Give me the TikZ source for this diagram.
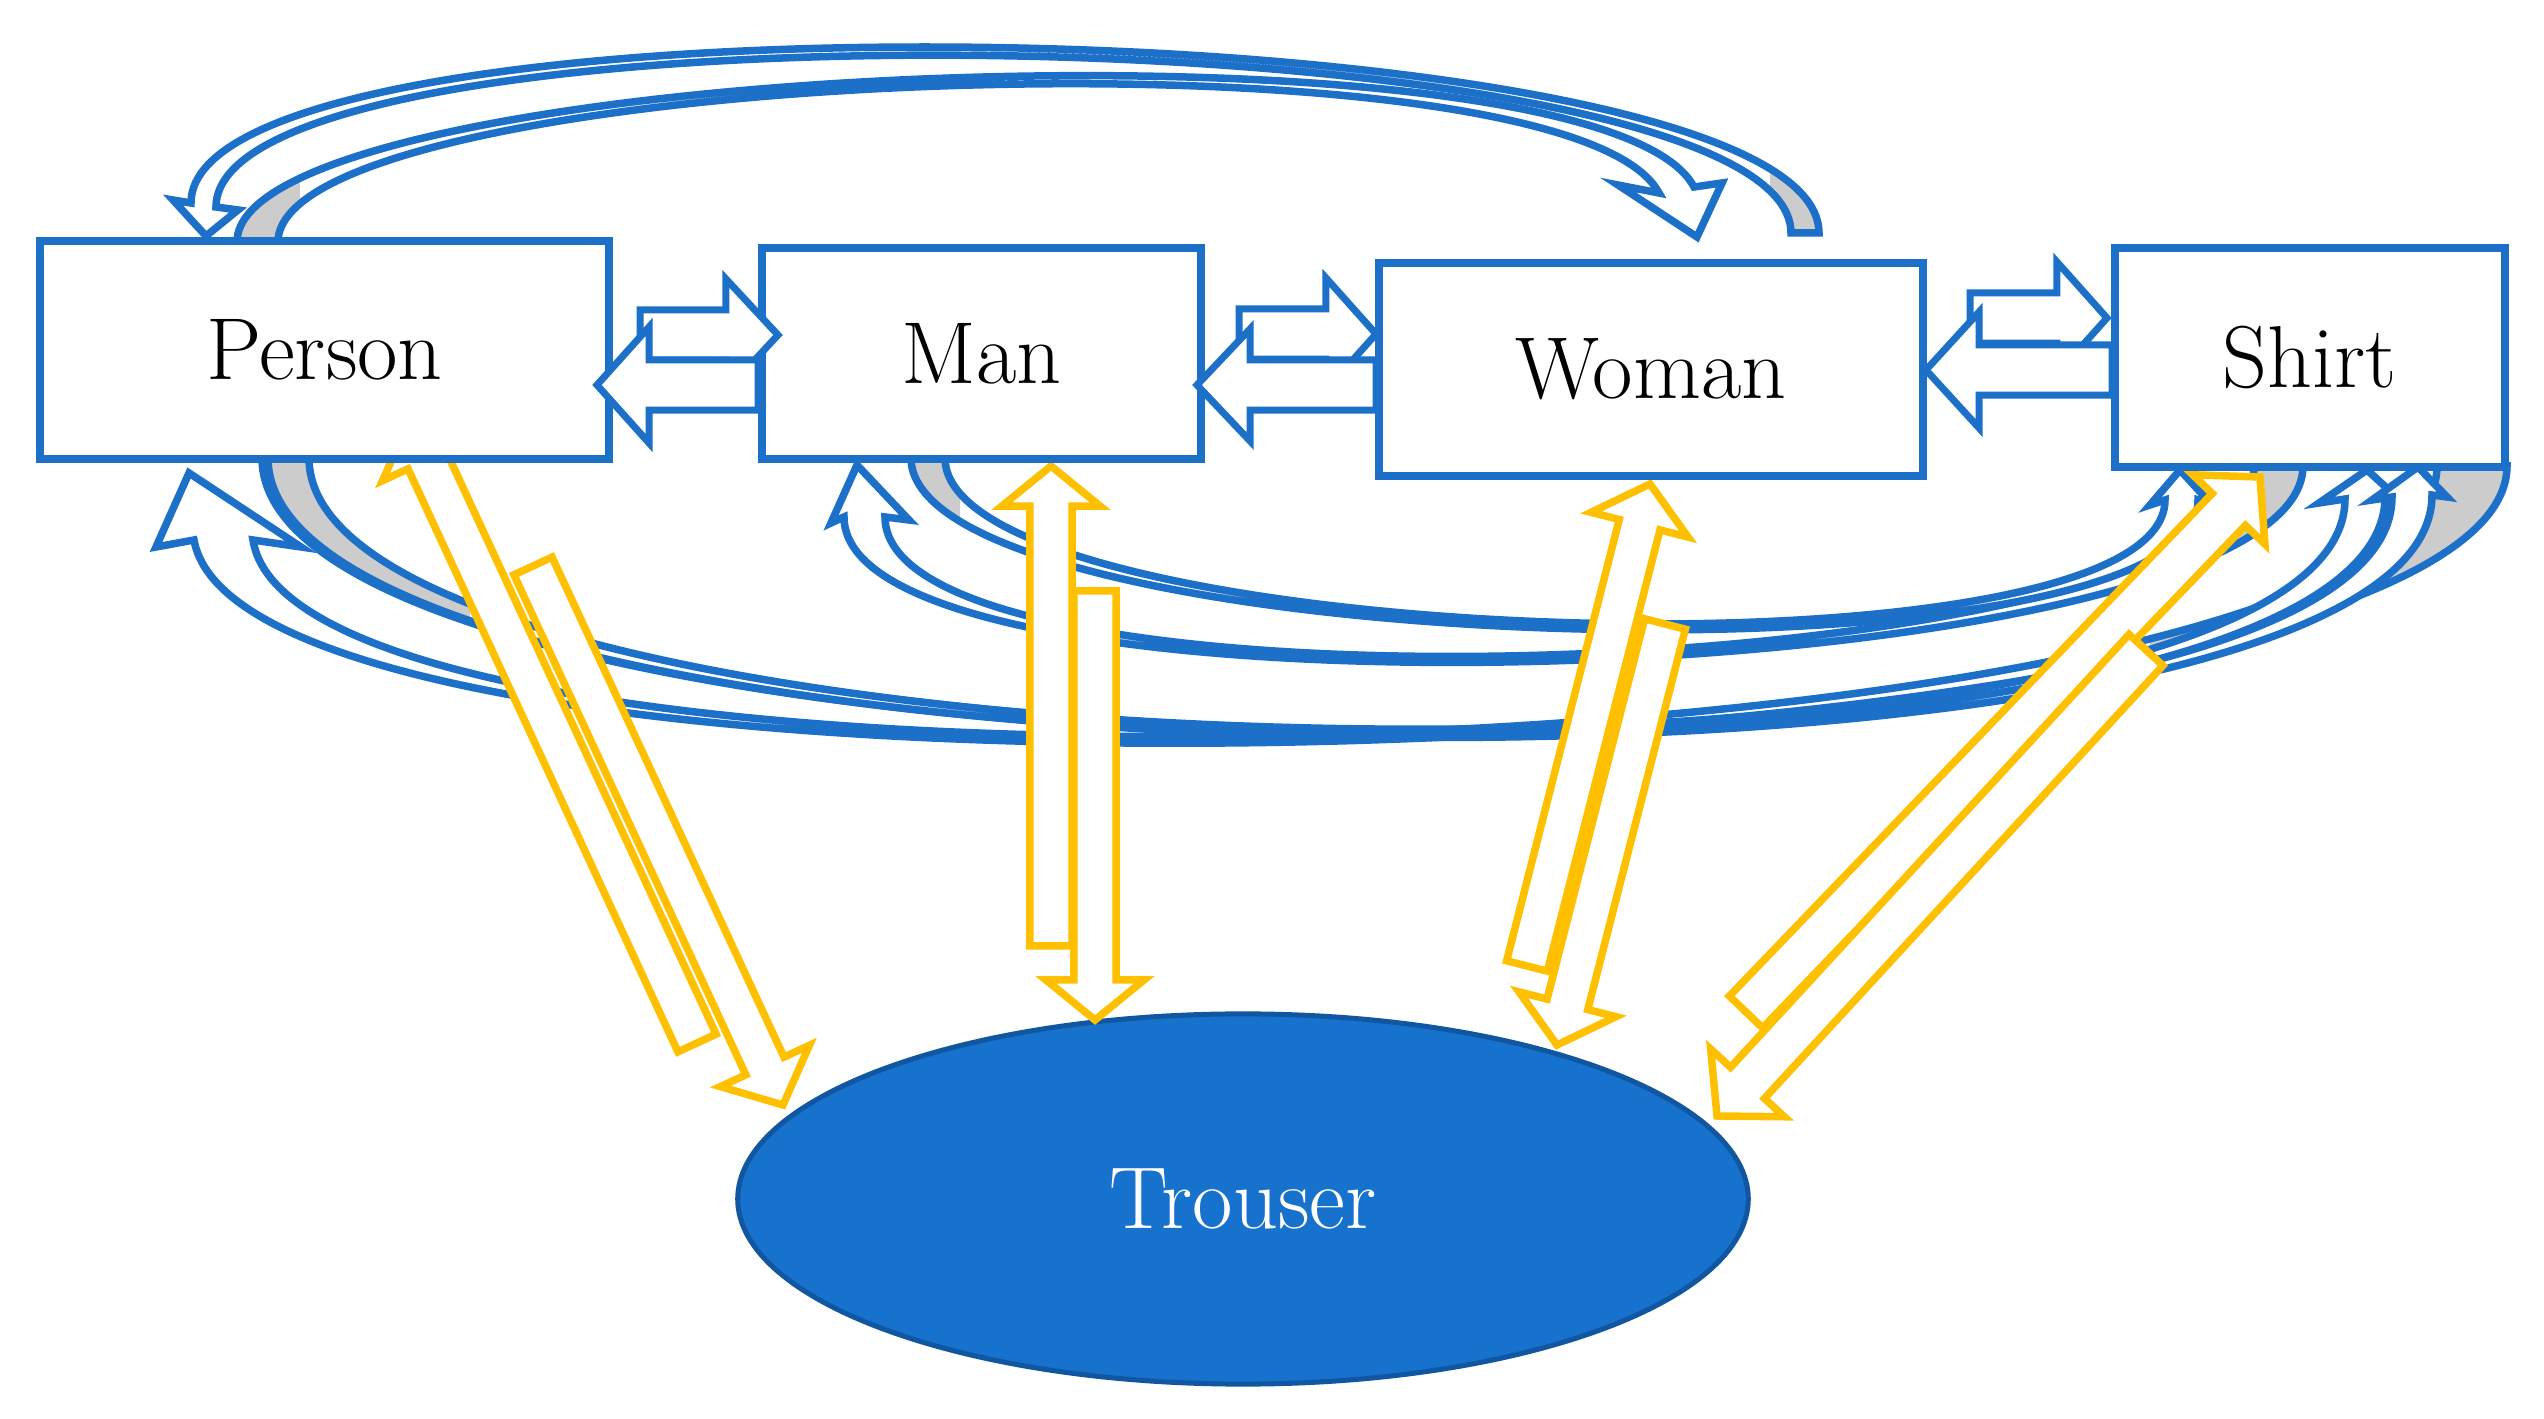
\documentclass[tikz,border=0pt]{standalone}
\usepackage{fontspec}
\usetikzlibrary{calc,shapes.geometric}
\definecolor{bblue}{RGB}{28,112,200}
\definecolor{efill}{RGB}{22,114,204}
\definecolor{edraw}{RGB}{16,86,160}
\definecolor{ygold}{RGB}{255,192,0}
\definecolor{rgrey}{RGB}{204,204,204}
\tikzset{
 box/.style={draw=bblue, line width=0.08cm, fill=white, inner sep=0pt, font=\fontsize{25}{30}\selectfont},
 harrow/.style={draw=bblue, line width=0.07cm, fill=white, line join=miter},
 yarrow/.style={draw=ygold, line width=0.075cm, fill=white, line join=miter},
 ribbonline/.style={draw=bblue, line width=0.075cm, line join=miter},
}
\newcommand\blockarrow[6]{%
  \coordinate (bab) at ($(#3)!#6!(#2)$);
  \path[#1] ($(#2)!#4!90:(#3)$) -- ($(bab)!#4!90:(#3)$) -- ($(bab)!#5!90:(#3)$) -- (#3)
    -- ($(bab)!#5!-90:(#3)$) -- ($(bab)!#4!-90:(#3)$) -- ($(#2)!#4!-90:(#3)$) -- cycle;}
\newcommand\ribbonshape[2]{%
  \fill[white] #1;
  \begin{scope}\clip #1; \fill[rgrey] #2; \end{scope}
  \draw[ribbonline] #1;}
\begin{document}
\begin{tikzpicture}[x=0.01cm,y=-0.01cm]
\useasboundingbox (0,0) rectangle (2544,1419);
% ---- top curved arrows
\ribbonshape{(237,242) .. controls (237,61) and (1598,6) .. (1694,187) -- (1722,183) -- (1697,237) -- (1618,185) -- (1659,193) .. controls (1566,18) and (278,67) .. (278,242) -- cycle}{(0,0) rectangle (300,1419)}
\ribbonshape{(1819,233) .. controls (1819,6) and (191,-24) .. (191,203) -- (173,200) -- (206,236) -- (238,210) -- (216,207) .. controls (216,-12) and (1791,14) .. (1791,233) -- cycle}{(1770,0) rectangle (2544,1419)}
% ---- bottom curved arrows
\ribbonshape{(194,540) .. controls (250,856) and (2507,782) .. (2507,466) -- (2437,466) .. controls (2437,773) and (300,847) .. (253,540) -- (301,547) -- (189,473) -- (156,547) -- cycle}{(2150,0) rectangle (2544,1419)}
\ribbonshape{(262,458) .. controls (262,801) and (2385,840) .. (2385,497) -- (2400,500) -- (2367,470) -- (2319,503) -- (2345,499) .. controls (2345,832) and (300,791) .. (300,458) -- cycle}{(0,0) rectangle (470,1419)}
\ribbonshape{(268,458) .. controls (268,805) and (2432,842) .. (2432,495) -- (2447,497) -- (2418,467) -- (2372,500) -- (2392,497) .. controls (2392,834) and (309,795) .. (309,458) -- cycle}{(0,0) rectangle (470,1419)}
\ribbonshape{(844,517) .. controls (844,742) and (2303,691) .. (2303,466) -- (2254,466) .. controls (2254,683) and (885,734) .. (885,517) -- (909,520) -- (857,465) -- (831,523) -- cycle}{(2170,0) rectangle (2544,1419)}
\ribbonshape{(911,458) .. controls (911,657) and (2198,699) .. (2198,500) -- (2212,505) -- (2180,470) -- (2150,505) -- (2165,500) .. controls (2165,691) and (945,649) .. (945,458) -- cycle}{(0,0) rectangle (960,1419)}
% ---- Trouser
\node[ellipse, fill=efill, draw=edraw, line width=0.05cm, minimum width=10.1cm, minimum height=3.7cm, inner sep=0pt, text=white, font=\fontsize{25}{30}\selectfont] (trouser) at (1243,1199) {Trouser};
% ---- yellow arrows
\coordinate (pu1) at (697,1043); \coordinate (pu2) at (409,421);
\coordinate (pd1) at (533,566);  \coordinate (pd2) at (783,1105);
\coordinate (mu1) at (1051,946); \coordinate (mu2) at (1051,466);
\coordinate (md1) at (1095,591); \coordinate (md2) at (1095,1020);
\coordinate (wu1) at (1527,966); \coordinate (wu2) at (1650,484);
\coordinate (wd1) at (1665,624); \coordinate (wd2) at (1557,1045);
\coordinate (su1) at (1746,1012); \coordinate (su2) at (2260,477);
\coordinate (sd1) at (2146,650); \coordinate (sd2) at (1717,1116);
\blockarrow{yarrow}{pu1}{pu2}{0.21cm}{0.49cm}{0.43cm}
\blockarrow{yarrow}{pd1}{pd2}{0.21cm}{0.49cm}{0.43cm}
\blockarrow{yarrow}{mu1}{mu2}{0.21cm}{0.49cm}{0.4cm}
\blockarrow{yarrow}{md1}{md2}{0.21cm}{0.49cm}{0.4cm}
\blockarrow{yarrow}{wu1}{wu2}{0.21cm}{0.5cm}{0.42cm}
\blockarrow{yarrow}{wd1}{wd2}{0.21cm}{0.5cm}{0.42cm}
\blockarrow{yarrow}{su1}{su2}{0.23cm}{0.5cm}{0.45cm}
\blockarrow{yarrow}{sd1}{sd2}{0.23cm}{0.5cm}{0.45cm}
% ---- boxes
\node[box, minimum width=5.68cm, minimum height=2.17cm] (person) at (324.5,350) {Person};
\node[box, minimum width=4.38cm, minimum height=2.10cm] (man) at (981.5,353.5) {Man};
\node[box, minimum width=5.43cm, minimum height=2.12cm] (woman) at (1651,369.5) {Woman};
\node[box, minimum width=3.89cm, minimum height=2.18cm] (shirt) at (2310,357.5) {Shirt};
% ---- horizontal blue double arrows
\coordinate (pm1) at (640,335);  \coordinate (pm2) at (778,335);
\coordinate (mp1) at (758,385);  \coordinate (mp2) at (597,385);
\coordinate (mw1) at (1239,334); \coordinate (mw2) at (1376,334);
\coordinate (wm1) at (1376,385); \coordinate (wm2) at (1197,385);
\coordinate (ws1) at (1970,318); \coordinate (ws2) at (2107,318);
\coordinate (sw1) at (2112,370); \coordinate (sw2) at (1926,370);
\blockarrow{harrow}{pm1}{pm2}{0.25cm}{0.56cm}{0.52cm}
\blockarrow{harrow}{mp1}{mp2}{0.25cm}{0.58cm}{0.52cm}
\blockarrow{harrow}{mw1}{mw2}{0.25cm}{0.56cm}{0.5cm}
\blockarrow{harrow}{wm1}{wm2}{0.25cm}{0.56cm}{0.53cm}
\blockarrow{harrow}{ws1}{ws2}{0.25cm}{0.56cm}{0.5cm}
\blockarrow{harrow}{sw1}{sw2}{0.25cm}{0.58cm}{0.53cm}
\end{tikzpicture}
\end{document}
